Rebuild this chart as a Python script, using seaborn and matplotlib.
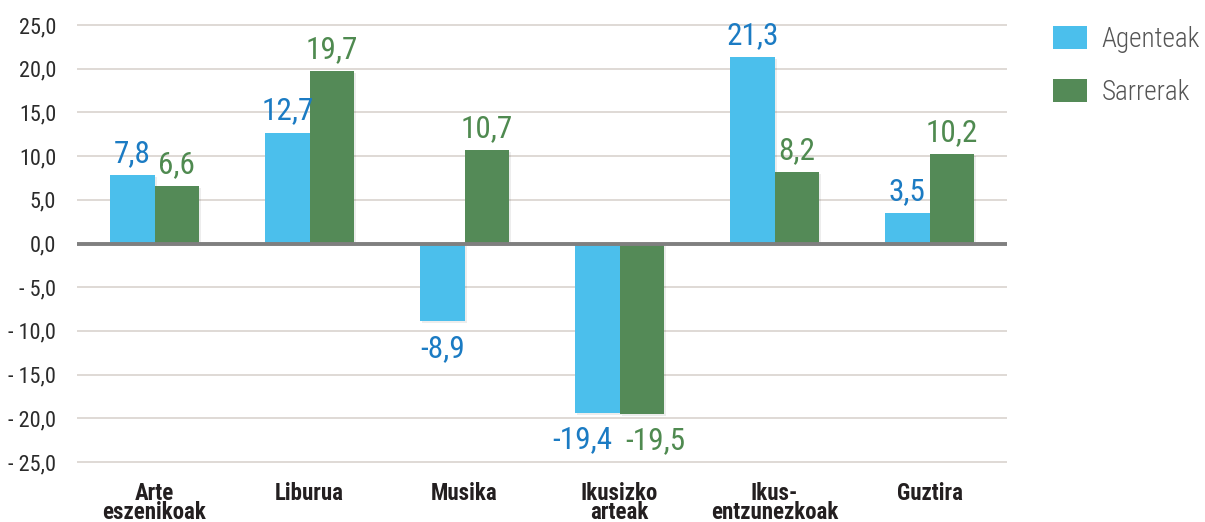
import matplotlib
matplotlib.use("Agg")
import matplotlib.pyplot as plt
import matplotlib.patheffects as pe
from matplotlib import font_manager
from matplotlib.patches import Patch
import seaborn as sns
import pandas as pd

categories = ["Arte\neszenikoak", "Liburua", "Musika", "Ikusizko\narteak", "Ikus-\nentzunezkoak", "Guztira"]
agenteak = [7.8, 12.7, -8.9, -19.4, 21.3, 3.5]
sarrerak = [6.6, 19.7, 10.7, -19.5, 8.2, 10.2]
series_names = ["Agenteak", "Sarrerak"]
yticks = [25, 20, 15, 10, 5, 0, -5, -10, -15, -20, -25]

bar_colors = ["#4BBFEC", "#548A57"]
label_colors = ["#1B7BC3", "#4F8A50"]

sns.set_theme(style="white")
names = {f.name for f in font_manager.fontManager.ttflist}
main_font = "Roboto Condensed" if "Roboto Condensed" in names else "Roboto"
plt.rcParams["font.family"] = [main_font, "DejaVu Sans"]

df = pd.DataFrame({
    "cat": categories * 2,
    "val": agenteak + sarrerak,
    "series": [series_names[0]] * len(categories) + [series_names[1]] * len(categories),
})

fig = plt.figure(figsize=(12.05, 5.22), dpi=100)
ax = fig.add_axes([77 / 1205, 1 - 470.7 / 522, (1007 - 77) / 1205, (470.7 - 16.3) / 522])

sns.barplot(data=df, x="cat", y="val", hue="series", palette=bar_colors, saturation=1,
            width=0.57, ax=ax, legend=False, order=categories, hue_order=series_names)

ax.set_ylim(-26, 26)
ax.set_xlim(-0.5, len(categories) - 0.5)
ax.set_yticks(yticks)
ax.set_yticklabels([("- " if t < 0 else "") + f"{abs(t):.1f}".replace(".", ",") for t in yticks],
                   fontsize=16, color="#2b2b2b")
ax.tick_params(axis="y", length=0, pad=15)
ax.tick_params(axis="x", length=0, pad=8)
ax.set_xticklabels(categories, fontsize=16.5, fontweight="bold", color="#231f20", linespacing=0.8)
ax.set_xlabel("")
ax.set_ylabel("")
for s in ax.spines.values():
    s.set_visible(False)
ax.set_axisbelow(True)
for t in yticks:
    if t != 0:
        ax.axhline(t, color="#dcd7d2", lw=1.3, zorder=0)
ax.axhline(0, color="#7f7f7f", lw=2.8, zorder=3)

shadow = [pe.SimplePatchShadow(offset=(1.5, -1.5), shadow_rgbFace="#000000", alpha=0.07), pe.Normal()]
series_vals = [agenteak, sarrerak]
for i, cont in enumerate(ax.containers):
    vals = series_vals[i]
    for j, bar in enumerate(cont):
        bar.set_path_effects(shadow)
        bar.set_edgecolor("none")
        v = vals[j]
        x = bar.get_x() + bar.get_width() / 2
        other = series_vals[1 - i][j]
        dx = 0
        if v < 0 and other < 0:
            dx = -11 if i == 0 else 10
        if v >= 0:
            ax.annotate(f"{v:.1f}".replace(".", ","), (x, v), xytext=(dx, 5), textcoords="offset points",
                        ha="center", va="bottom", fontsize=22.5, color=label_colors[i])
        else:
            ax.annotate(f"{v:.1f}".replace(".", ","), (x, v), xytext=(dx, -9), textcoords="offset points",
                        ha="center", va="top", fontsize=22.5, color=label_colors[i])

handles = [Patch(facecolor=c, edgecolor="none") for c in bar_colors]
leg = fig.legend(handles, series_names, loc="upper left", bbox_to_anchor=(1042 / 1205, 1 - 15 / 522),
                 frameon=False, fontsize=19.5, handlelength=1.25, handleheight=0.95,
                 labelspacing=0.95, handletextpad=0.55, borderaxespad=0)
for txt in leg.get_texts():
    txt.set_color("#555555")
    txt.set_fontweight("light")

fig.savefig("out.png", dpi=100)
